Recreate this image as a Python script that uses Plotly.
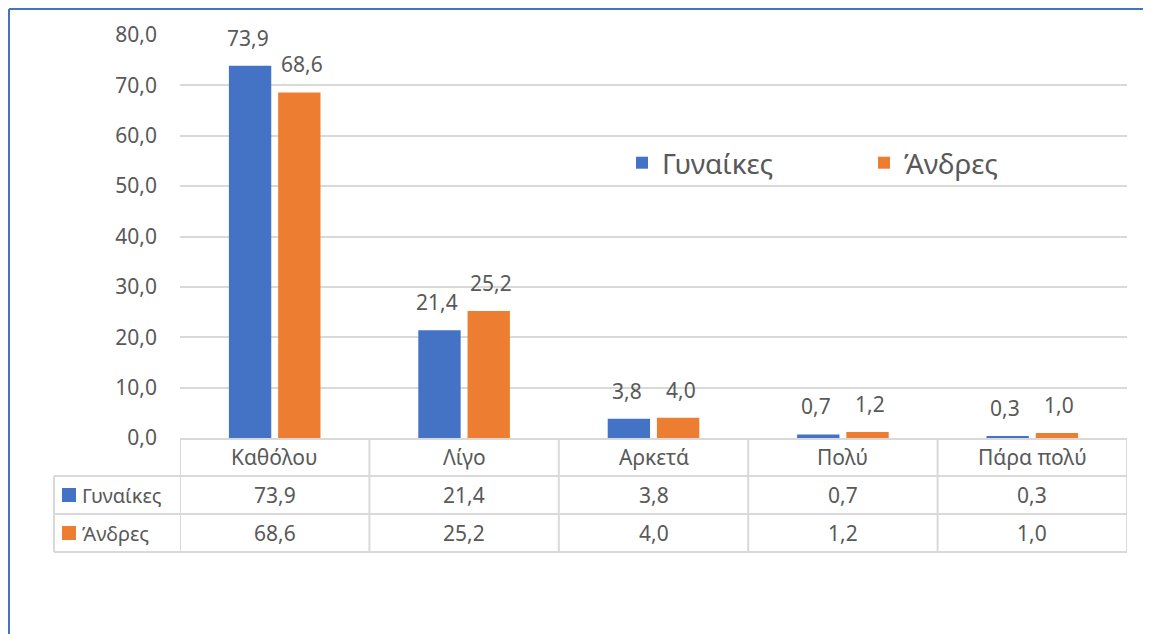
import plotly.graph_objects as go

categories = ["Καθόλου", "Λίγο", "Αρκετά", "Πολύ", "Πάρα πολύ"]
series_names = ["Γυναίκες", "Άνδρες"]
women = [73.9, 21.4, 3.8, 0.7, 0.3]
men = [68.6, 25.2, 4.0, 1.2, 1.0]
colors = ["#4472C4", "#ED7D31"]
y_ticks = [0, 10, 20, 30, 40, 50, 60, 70, 80]

OFF = 8  # page body margin of the browser
W, H = 1151 - OFF, 634 - OFF
# plot area in screen pixels
SX0, SX1, SY0, SY1 = 180, 1127, 35, 438
L, R = SX0 - OFF, W - (SX1 - OFF)
T, B = SY0 - OFF, H - (SY1 - OFF)
PW, PH = W - L - R, H - T - B

def px_x(p):  # screen pixel -> paper
    return (p - OFF - L) / PW

def px_y(p):
    return (H - B - (p - OFF)) / PH

def fmt(v):
    return f"{v:.1f}".replace(".", ",")

TEXT = "#595959"
GRID = "#D9D9D9"
FONT = "Noto Sans"
FS = 21

fig = go.Figure()
all_series = [women, men]
for name, vals, col in zip(series_names, all_series, colors):
    fig.add_trace(go.Bar(x=categories, y=vals, name=name, marker_color=col,
                         marker_line_width=0, hoverinfo="x+y"))

annotations = []
shapes = []

# data labels above bars
for vals, shift in zip(all_series, [-27, 27]):
    for c, v in zip(categories, vals):
        annotations.append(dict(x=c, y=v, xref="x", yref="y", text=fmt(v),
                                showarrow=False, xshift=shift, yshift=12,
                                yanchor="bottom",
                                font=dict(family=FONT, size=FS, color=TEXT)))

# data table
row_h = 38
y_head_c = px_y(SY1 + row_h / 2)
row_tops = [SY1 + row_h, SY1 + 2 * row_h]
y_bottom = px_y(SY1 + 3 * row_h)
for c in categories:
    annotations.append(dict(x=c, y=y_head_c, xref="x", yref="paper", text=c,
                            showarrow=False, yanchor="middle",
                            font=dict(family=FONT, size=FS, color=TEXT)))
for ri, (vals, name, col) in enumerate(zip(all_series, series_names, colors)):
    yc = px_y(row_tops[ri] + row_h / 2)
    for c, v in zip(categories, vals):
        annotations.append(dict(x=c, y=yc, xref="x", yref="paper", text=fmt(v),
                                showarrow=False, yanchor="middle",
                                font=dict(family=FONT, size=FS, color=TEXT)))
    annotations.append(dict(x=px_x(80), y=yc, xref="paper", yref="paper", text=name,
                            showarrow=False, xanchor="left", yanchor="middle",
                            font=dict(family=FONT, size=FS - 1, color=TEXT)))
    shapes.append(dict(type="rect", xref="paper", yref="paper",
                       x0=px_x(62), x1=px_x(76),
                       y0=px_y(row_tops[ri] + row_h / 2 - 7),
                       y1=px_y(row_tops[ri] + row_h / 2 + 7),
                       fillcolor=col, line_width=0))

# table grid lines
for k in range(len(categories) + 1):
    shapes.append(dict(type="line", xref="x", yref="paper", x0=k - 0.5, x1=k - 0.5,
                       y0=0, y1=y_bottom, line=dict(color=GRID, width=2)))
for p in row_tops + [SY1 + 3 * row_h]:
    shapes.append(dict(type="line", xref="paper", yref="paper", x0=px_x(54), x1=1,
                       y0=px_y(p), y1=px_y(p), line=dict(color=GRID, width=2)))
shapes.append(dict(type="line", xref="paper", yref="paper", x0=px_x(54), x1=px_x(54),
                   y0=px_y(row_tops[0]), y1=y_bottom, line=dict(color=GRID, width=2)))

# chart border (top and left visible only)
shapes.append(dict(type="line", xref="paper", yref="paper",
                   x0=px_x(9), x1=px_x(1151), y0=px_y(9), y1=px_y(9),
                   line=dict(color="#4472C4", width=2)))
shapes.append(dict(type="line", xref="paper", yref="paper",
                   x0=px_x(9), x1=px_x(9), y0=px_y(9), y1=px_y(634),
                   line=dict(color="#4472C4", width=2)))

fig.update_layout(
    width=W, height=H,
    margin=dict(l=L, r=R, t=T, b=B, autoexpand=False),
    paper_bgcolor="white", plot_bgcolor="white",
    separators=",.",
    barmode="group", bargap=0.48, bargroupgap=0.14,
    font=dict(family=FONT, size=FS, color=TEXT),
    showlegend=True,
    legend=dict(orientation="h", x=px_x(622), xanchor="left", y=px_y(163),
                yanchor="middle", font=dict(family=FONT, size=28, color=TEXT),
                bgcolor="rgba(0,0,0,0)", entrywidth=197, entrywidthmode="pixels",
                traceorder="normal"),
    xaxis=dict(type="category", showticklabels=False, showgrid=False,
               showline=True, linecolor=GRID, linewidth=2, ticks="",
               range=[-0.5, len(categories) - 0.5], fixedrange=True),
    yaxis=dict(range=[0, 80], tickvals=y_ticks, tickformat=".1f",
               showgrid=True, gridcolor=GRID, gridwidth=2, zeroline=False,
               showline=False, ticks="", ticklabelstandoff=22,
               tickfont=dict(family=FONT, size=FS, color=TEXT), fixedrange=True),
    annotations=annotations, shapes=shapes,
)

fig.write_html("out.html", config={"displayModeBar": False})
